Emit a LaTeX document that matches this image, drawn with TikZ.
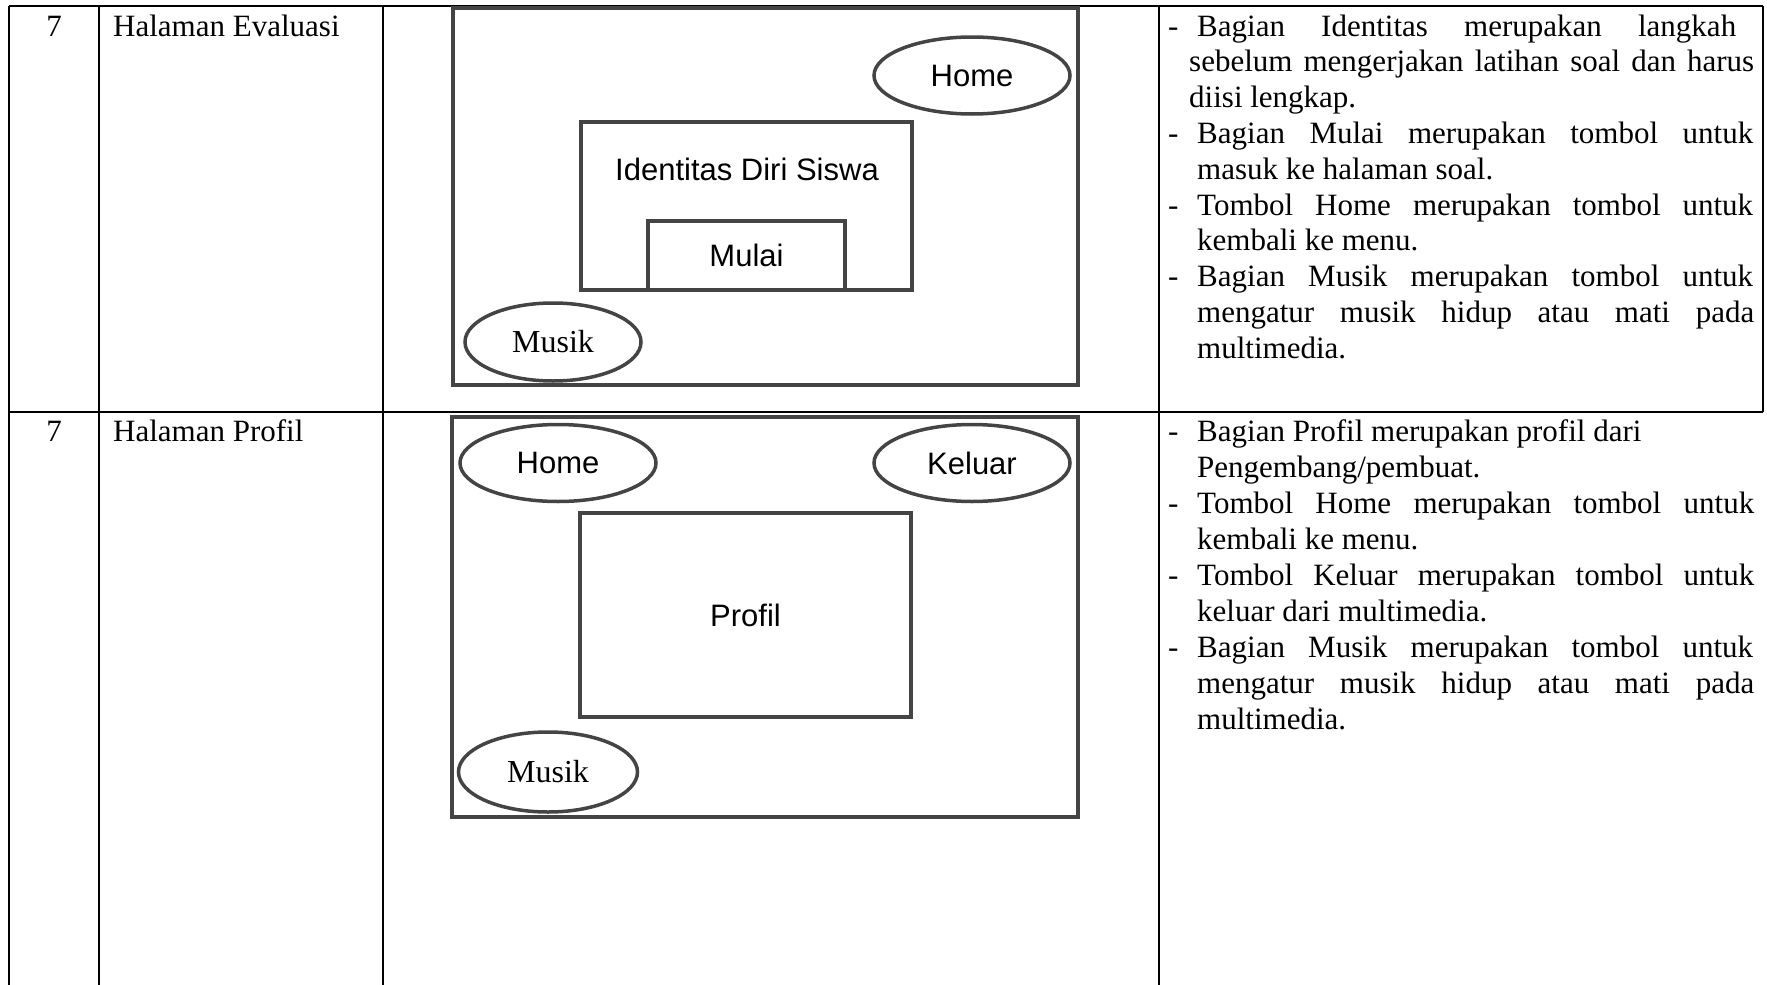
\documentclass[tikz,border=0pt]{standalone}
\usepackage{fontspec}
\setmainfont{Liberation Serif}
\newfontfamily\uisans{Liberation Sans}
\usetikzlibrary{shapes.geometric}
\definecolor{wire}{HTML}{444444}
% one description line: dash column, then a justified line of given width
\newcommand\dashline[2]{\makebox[29pt][l]{-}\makebox[#1][s]{#2}\par}
\newcommand\dashfree[1]{\makebox[29pt][l]{-}#1\par}
\newcommand\contline[3]{\hspace*{#1}\makebox[#2][s]{#3}\par}
\newcommand\contfree[2]{\hspace*{#1}#2\par}
\begin{document}
\begin{tikzpicture}[x=1pt,y=-1pt,
  rule/.style={line width=1.5pt, black},
  frame/.style={draw=wire, line width=4pt, inner sep=0pt, rectangle},
  btn/.style={draw=wire, line width=3.5pt, ellipse, inner sep=0pt},
  body/.style={font=\fontsize{31}{35.8}\selectfont, inner sep=0pt},
  ui/.style={font=\uisans\fontsize{31}{36}\selectfont},
  serifbtn/.style={font=\fontsize{32}{36}\selectfont},
]
\useasboundingbox (0,0) rectangle (1767,985);
\fill[white] (0,0) rectangle (1767,985);

% table rules
\draw[rule] (9,6) -- (1763,6);
\draw[rule] (9,412) -- (1763,412);
\draw[rule] (9,6) -- (9,985);
\draw[rule] (99,6) -- (99,985);
\draw[rule] (383,6) -- (383,985);
\draw[rule] (1159,6) -- (1159,985);
\draw[rule] (1763,6) -- (1763,412);

% first row: evaluation page
\node[body, anchor=base] (no1) at (54,36) {7};
\node[body, anchor=base west] (name1) at (113,36) {Halaman Evaluasi};

\node[frame, minimum width=625pt, minimum height=377pt] (screen1) at (765.5,196.5) {};
\node[btn, ui, minimum width=196pt, minimum height=77pt] (home1) at (972,75.5) {Home};
\node[frame, minimum width=331pt, minimum height=168.5pt] (ident) at (746.5,206) {};
\node[ui] (identlbl) at (747,169) {Identitas Diri Siswa};
\node[frame, ui, minimum width=197pt, minimum height=69pt] (mulai) at (746.5,255.5) {Mulai};
\node[btn, serifbtn, minimum width=176pt, minimum height=78pt] (musik1) at (553,342) {Musik};

\node[body, anchor=base west] (desc1) at (1168,36) {\parbox[t]{600pt}{%
  \dashline{539pt}{Bagian Identitas merupakan langkah}
  \contline{21pt}{565pt}{sebelum mengerjakan latihan soal dan harus}
  \contfree{21pt}{diisi lengkap.}
  \dashline{556pt}{Bagian Mulai merupakan tombol untuk}
  \contfree{29pt}{masuk ke halaman soal.}
  \dashline{556pt}{Tombol Home merupakan tombol untuk}
  \contfree{29pt}{kembali ke menu.}
  \dashline{556pt}{Bagian Musik merupakan tombol untuk}
  \contline{29pt}{557pt}{mengatur musik hidup atau mati pada}
  \contfree{29pt}{multimedia.}}};

% second row: profile page
\node[body, anchor=base] (no2) at (54,441) {7};
\node[body, anchor=base west] (name2) at (113,441) {Halaman Profil};

\node[frame, minimum width=626pt, minimum height=400pt] (screen2) at (765,617) {};
\node[btn, ui, minimum width=196pt, minimum height=77pt] (home2) at (558,463) {Home};
\node[btn, ui, minimum width=196pt, minimum height=77pt] (keluar) at (972,463) {Keluar};
\node[frame, ui, minimum width=331pt, minimum height=204.5pt] (profil) at (745.5,615) {Profil};
\node[btn, serifbtn, minimum width=179pt, minimum height=80pt] (musik2) at (548,772) {Musik};

\node[body, anchor=base west] (desc2) at (1168,441) {\parbox[t]{600pt}{\baselineskip=36pt
  \dashfree{Bagian Profil merupakan profil dari}
  \contfree{29pt}{Pengembang/pembuat.}
  \dashline{557pt}{Tombol Home merupakan tombol untuk}
  \contfree{29pt}{kembali ke menu.}
  \dashline{557pt}{Tombol Keluar merupakan tombol untuk}
  \contfree{29pt}{keluar dari multimedia.}
  \dashline{556pt}{Bagian Musik merupakan tombol untuk}
  \contline{29pt}{557pt}{mengatur musik hidup atau mati pada}
  \contfree{29pt}{multimedia.}}};
\end{tikzpicture}
\end{document}
